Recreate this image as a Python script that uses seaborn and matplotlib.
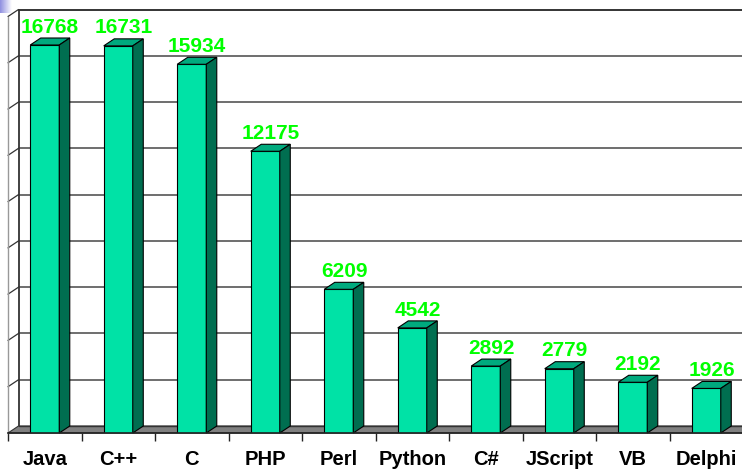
import numpy as np
import pandas as pd
import matplotlib
matplotlib.use("Agg")
import matplotlib.pyplot as plt
from matplotlib.patches import Polygon
import seaborn as sns

languages = ["Java", "C++", "C", "PHP", "Perl", "Python", "C#", "JScript", "VB", "Delphi"]
counts = [16768, 16731, 15934, 12175, 6209, 4542, 2892, 2779, 2192, 1926]
grid_values = [0, 2000, 4000, 6000, 8000, 10000, 12000, 14000, 16000, 18000]

FRONT = "#00E2A6"
SIDE = "#006E50"
TOP = "#00AA7E"
LABEL_GREEN = "#00FF00"

sns.set_theme(style="white")
plt.rcParams["font.family"] = ["Liberation Sans", "DejaVu Sans"]

W, H = 742, 473
fig = plt.figure(figsize=(W / 100, H / 100), dpi=100)
left_px, right_px = 8, 743
floor_px, top_px = 433, 16.5
ax = fig.add_axes([left_px / W, (H - floor_px) / H, (right_px - left_px) / W, (floor_px - top_px) / H])

df = pd.DataFrame({"language": languages, "count": counts})
sns.barplot(data=df, x="language", y="count", color=FRONT, saturation=1, width=0.395,
            edgecolor="black", linewidth=0.8, ax=ax, zorder=5)
bars = list(ax.patches)

ymax = grid_values[-1]
ax.set_xlim(-0.5, len(languages) - 0.5)
ax.set_ylim(0, ymax)

# depth offsets in data units
px_per_cat = (right_px - left_px) / len(languages)
px_per_val = (floor_px - top_px) / ymax
DXp, DYp = 10.5, 7.0
DX = DXp / px_per_cat
DY = DYp / px_per_val
x0 = -0.5
x1 = len(languages) - 0.5 + 0.5

# back wall gridlines
for g in grid_values[1:]:
    ax.plot([x0 + DX, x1 + DX], [g + DY, g + DY], color="#6E6E6E", lw=1.4, zorder=1, clip_on=False)
    ax.plot([x0, x0], [g, g], color="#333333", lw=0, zorder=1)
    ax.plot([x0, x0 + DX], [g, g + DY], color="#333333", lw=0.9, zorder=1, clip_on=False)
# top edge
ax.plot([x0 + DX, x1 + DX], [ymax + DY, ymax + DY], color="#333333", lw=1.3, zorder=1, clip_on=False)
# left wall verticals
ax.plot([x0, x0], [0, ymax], color="#999999", lw=1.0, zorder=1, clip_on=False)
ax.plot([x0 + DX, x0 + DX], [DY, ymax + DY], color="#333333", lw=1.3, zorder=1, clip_on=False)
# floor
floor = Polygon([(x0, 0), (x1, 0), (x1 + DX, DY), (x0 + DX, DY)], closed=True,
                facecolor="#808080", edgecolor="#333333", lw=0.8, zorder=2, clip_on=False)
ax.add_patch(floor)
ax.plot([x0 + DX, x1 + DX], [DY, DY], color="#333333", lw=1.0, zorder=2.5, clip_on=False)

# 3D bar faces
for p in bars:
    bx, bw, bh = p.get_x(), p.get_width(), p.get_height()
    top = Polygon([(bx, bh), (bx + bw, bh), (bx + bw + DX, bh + DY), (bx + DX, bh + DY)],
                  closed=True, facecolor=TOP, edgecolor="black", lw=0.8, zorder=6, clip_on=False)
    side = Polygon([(bx + bw, 0), (bx + bw + DX, DY), (bx + bw + DX, bh + DY), (bx + bw, bh)],
                   closed=True, facecolor=SIDE, edgecolor="black", lw=0.8, zorder=6, clip_on=False)
    ax.add_patch(top)
    ax.add_patch(side)
    ax.annotate(f"{int(round(bh))}", (bx + (bw + DX) / 2, bh + DY), xytext=(0, 1),
                textcoords="offset points", ha="center", va="bottom",
                fontsize=15, fontweight="bold", color=LABEL_GREEN, zorder=10,
                annotation_clip=False)

# axes styling
for s in ["top", "right", "left"]:
    ax.spines[s].set_visible(False)
ax.spines["bottom"].set_color("#222222")
ax.spines["bottom"].set_linewidth(1.2)
ax.spines["bottom"].set_zorder(7)
ax.set_yticks([])
ax.set_xlabel("")
ax.set_ylabel("")
ax.set_xticks(np.arange(-0.5, len(languages), 1), minor=True)
ax.tick_params(axis="x", which="minor", length=6, width=1.0, color="#222222", direction="out", bottom=True)
ax.tick_params(axis="x", which="major", length=0, pad=12)
for t in ax.get_xticklabels():
    t.set_fontweight("bold")
    t.set_fontsize(14.5)
    t.set_color("black")
ax.patch.set_alpha(0)

# decorative corner gradient
cax = fig.add_axes([0, (H - 13) / H, 12 / W, 13 / H])
grad = np.linspace(0, 1, 50)[None, :]
cax.imshow(grad, aspect="auto", cmap=matplotlib.colors.LinearSegmentedColormap.from_list(
    "c", ["#9090E0", "#FFFFFF"]))
cax.axis("off")

fig.savefig("out.png", dpi=100, facecolor="white")
